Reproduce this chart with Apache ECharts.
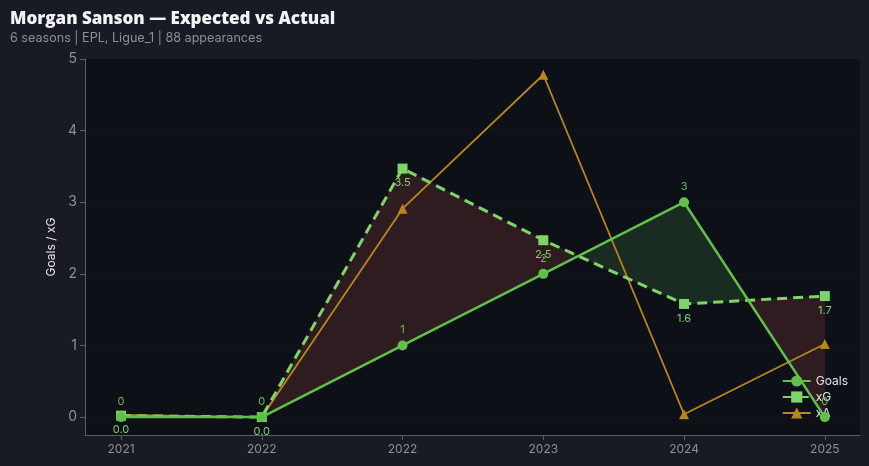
<!DOCTYPE html>
<html><head><meta charset="utf-8">
<script src="https://cdn.jsdelivr.net/npm/echarts@6/dist/echarts.min.js"></script>
<style>html,body{margin:0;padding:0;background:#181b23;}#c{width:869px;height:466px;}</style>
</head><body><div id="c"></div>
<script>
const seasons = ['2021','2022','2022','2023','2024','2025'];
const goals = [0, 0, 1, 2, 3, 0];
const xg = [0.02, 0.0, 3.47, 2.47, 1.58, 1.69];
const xa = [0.03, 0.0, 2.91, 4.78, 0.04, 1.02];
const yTicks = [0, 1, 2, 3, 4, 5];

const idx = seasons.map((s, i) => i);
const pts = arr => arr.map((v, i) => [i, v]);

const RED = '#2f1c20', GREEN = '#1a2c21';

function renderFill(params, api) {
  const i = api.value(0);
  if (i >= seasons.length - 1) return null;
  const g0 = api.coord([i, goals[i]]), g1 = api.coord([i + 1, goals[i + 1]]);
  const x0 = api.coord([i, xg[i]]), x1 = api.coord([i + 1, xg[i + 1]]);
  const d0 = xg[i] - goals[i], d1 = xg[i + 1] - goals[i + 1];
  const children = [];
  const poly = (p, c) => children.push({type: 'polygon', shape: {points: p}, style: {fill: c, stroke: c, lineWidth: 0.8}, silent: true});
  if (d0 * d1 >= 0) {
    const s = (d0 + d1);
    if (Math.abs(s) < 0.05) return null;
    poly([g0, g1, x1, x0], s > 0 ? RED : GREEN);
  } else {
    const t = d0 / (d0 - d1);
    const c = [g0[0] + t * (g1[0] - g0[0]), g0[1] + t * (g1[1] - g0[1])];
    poly([g0, c, x0], d0 > 0 ? RED : GREEN);
    poly([c, g1, x1], d1 > 0 ? RED : GREEN);
  }
  return {type: 'group', children};
}

const chart = echarts.init(document.getElementById('c'));
chart.setOption({
  backgroundColor: '#181b23',
  animation: false,
  title: {
    text: 'Morgan Sanson — Expected vs Actual',
    subtext: '6 seasons | EPL, Ligue_1 | 88 appearances',
    left: 5, top: 6, itemGap: 4,
    textStyle: {color: '#f2f3f5', fontSize: 17, fontWeight: 800, fontFamily: 'Open Sans'},
    subtextStyle: {color: '#8a8f98', fontSize: 12.6, fontFamily: 'Inter'}
  },
  grid: {left: 85, right: 9, top: 59, bottom: 31, show: true, backgroundColor: '#0d1017', borderWidth: 0},
  legend: {
    orient: 'vertical', right: 16, top: 370, itemGap: 4, itemWidth: 28, itemHeight: 14,
    textStyle: {color: '#e6e6e6', fontSize: 12, fontFamily: 'Inter'},
    data: ['Goals', 'xG', 'xA']
  },
  xAxis: {
    type: 'value', min: -0.256, max: 5.25,
    axisLine: {show: true, onZero: false, lineStyle: {color: '#5a5f69'}},
    axisTick: {show: true, customValues: idx, length: 5, lineStyle: {color: '#5a5f69'}},
    axisLabel: {customValues: idx, formatter: v => seasons[Math.round(v)], color: '#8b9099', fontSize: 12, fontFamily: 'Inter', margin: 8},
    splitLine: {show: false}
  },
  yAxis: {
    type: 'value', min: -0.25, max: 5,
    name: 'Goals / xG', nameLocation: 'middle', nameGap: 28,
    nameTextStyle: {color: '#e6e6e6', fontSize: 12, fontFamily: 'Inter'},
    axisLine: {show: true, onZero: false, lineStyle: {color: '#5a5f69'}},
    axisTick: {show: true, customValues: yTicks, length: 5, lineStyle: {color: '#5a5f69'}},
    axisLabel: {customValues: yTicks, color: '#8b9099', fontSize: 14, fontFamily: 'Inter', margin: 8},
    splitLine: {show: true, lineStyle: {color: 'rgba(255,255,255,0.02)'}}
  },
  series: [
    {type: 'custom', name: 'fill', data: idx.slice(0, -1).map(i => [i]), renderItem: renderFill, z: 1, silent: true, tooltip: {show: false}},
    {
      type: 'line', name: 'xA', data: pts(xa), z: 3,
      symbol: 'triangle', symbolSize: 10, color: '#b8861e',
      lineStyle: {width: 1.8, color: '#b8861e'}, itemStyle: {color: '#b8861e'}
    },
    {
      type: 'line', name: 'xG', data: pts(xg), z: 4,
      symbol: 'rect', symbolSize: 10, color: '#7dd468',
      lineStyle: {width: 3, type: [10, 6], color: '#7dd468'}, itemStyle: {color: '#7dd468'},
      label: {show: true, position: 'bottom', distance: 4, color: '#7dd468', fontSize: 11, fontFamily: 'Inter', formatter: p => p.value[1].toFixed(1)}
    },
    {
      type: 'line', name: 'Goals', data: pts(goals), z: 5,
      symbol: 'circle', symbolSize: 10, color: '#5fc04a',
      lineStyle: {width: 2.5, color: '#5fc04a'}, itemStyle: {color: '#5fc04a'},
      label: {show: true, position: 'top', distance: 5, color: '#5fc04a', fontSize: 11, fontFamily: 'Inter', formatter: p => String(p.value[1])}
    }
  ]
});
</script></body></html>
